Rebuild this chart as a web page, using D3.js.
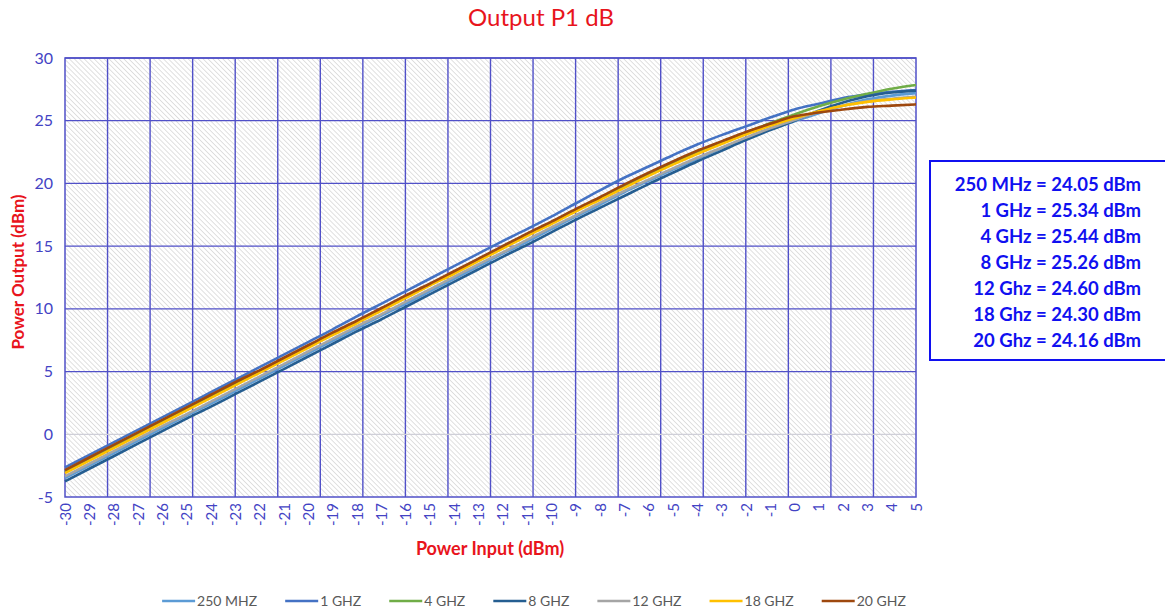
<!DOCTYPE html>
<html>
<head>
<meta charset="utf-8">
<script src="https://cdn.jsdelivr.net/npm/d3@7"></script>
<style>
  body { margin: 0; background: #fff; }
  svg { display: block; font-family: Lato, "Open Sans", sans-serif; }
</style>
</head>
<body>
<div id="chart"></div>
<script>
// input power, dBm
var inputs = d3.range(-30, 6)

var s250m = [-3.5,-2.5,-1.5,-0.5,0.5,1.5,2.45,3.45,4.45,5.45,6.45,7.45,8.45,9.45,10.4,11.4,12.4,13.4,14.4,15.35,16.35,17.35,18.3,19.3,20.2,21.1,21.95,22.8,23.6,24.3,24.95,25.6,26.2,26.7,27.0,27.2]
var s1g   = [-2.65,-1.65,-0.65,0.35,1.35,2.35,3.35,4.35,5.35,6.35,7.35,8.35,9.4,10.4,11.4,12.4,13.4,14.4,15.4,16.35,17.35,18.4,19.45,20.45,21.35,22.25,23.1,23.85,24.55,25.25,25.9,26.35,26.8,27.1,27.3,27.45]
var s4g   = [-3.0,-2.0,-1.0,0.0,1.0,2.0,3.0,4.0,5.0,6.0,7.0,8.0,9.0,10.0,11.0,11.95,12.95,13.95,14.95,15.95,16.9,17.9,18.85,19.8,20.75,21.65,22.5,23.3,24.05,24.8,25.5,26.15,26.7,27.15,27.55,27.85]
var s8g   = [-3.75,-2.75,-1.75,-0.75,0.25,1.25,2.2,3.2,4.2,5.2,6.2,7.2,8.2,9.15,10.15,11.15,12.15,13.15,14.15,15.1,16.1,17.1,18.05,19.0,19.95,20.85,21.75,22.6,23.45,24.25,25.0,25.8,26.45,26.95,27.25,27.4]
var s12g  = [-3.35,-2.35,-1.35,-0.35,0.65,1.6,2.6,3.6,4.6,5.6,6.6,7.6,8.6,9.55,10.55,11.55,12.55,13.55,14.5,15.5,16.5,17.45,18.45,19.4,20.3,21.2,22.05,22.85,23.65,24.4,25.05,25.7,26.2,26.55,26.75,26.9]
var s18g  = [-3.1,-2.1,-1.1,-0.1,0.9,1.9,2.9,3.9,4.9,5.9,6.9,7.9,8.85,9.85,10.85,11.85,12.8,13.8,14.8,15.8,16.75,17.75,18.7,19.65,20.6,21.5,22.35,23.15,23.9,24.6,25.2,25.75,26.2,26.5,26.7,26.85]
var s20g  = [-2.85,-1.85,-0.85,0.15,1.15,2.15,3.15,4.15,5.1,6.1,7.1,8.1,9.05,10.05,11.05,12.0,13.0,14.0,15.0,16.0,16.95,17.95,18.9,19.9,20.85,21.75,22.6,23.35,24.1,24.75,25.35,25.65,25.9,26.1,26.2,26.3]

var seriesNames = ['250 MHZ', '1 GHZ', '4 GHZ', '8 GHZ', '12 GHZ', '18 GHZ', '20 GHZ']
var seriesValues = [s250m, s1g, s4g, s8g, s12g, s18g, s20g]
var seriesColors = ['#5B9BD5', '#4472C4', '#70AD47', '#255E91', '#A5A5A5', '#FFC000', '#9E480E']

var yTicks = [-5, 0, 5, 10, 15, 20, 25, 30]

var p1dbNotes = [
  '250 MHz = 24.05 dBm',
  '1 GHz = 25.34 dBm',
  '4 GHz = 25.44 dBm',
  '8 GHz = 25.26 dBm',
  '12 Ghz = 24.60 dBm',
  '18 Ghz = 24.30 dBm',
  '20 Ghz = 24.16 dBm'
]

var width = 1165
var height = 613
var plot = {left: 65, right: 916, top: 58, bottom: 497}
var gridBlue = '#5050c8'
var tickBlue = '#4343c4'
var font = 'Lato, "Open Sans", sans-serif'
var fmt = d => String(d)   // plain hyphen minus, as in the original

var svg = d3.select('#chart').append('svg')
  .attr('width', width).attr('height', height)

var x = d3.scaleLinear().domain([-30, 5]).range([plot.left, plot.right])
var y = d3.scaleLinear().domain([-5, 30]).range([plot.bottom, plot.top])

// hatched plot background
var defs = svg.append('defs')
var pat = defs.append('pattern')
  .attr('id', 'hatch')
  .attr('patternUnits', 'userSpaceOnUse')
  .attr('width', 3.5).attr('height', 3.5)
  .attr('patternTransform', 'rotate(-45)')
pat.append('rect').attr('width', 3.5).attr('height', 3.5).attr('fill', '#fff')
pat.append('line')
  .attr('x1', 0).attr('y1', 0).attr('x2', 0).attr('y2', 3.5)
  .attr('stroke', '#d4d4d4').attr('stroke-width', 1.4)

svg.append('rect')
  .attr('x', plot.left).attr('y', plot.top)
  .attr('width', plot.right - plot.left).attr('height', plot.bottom - plot.top)
  .attr('fill', 'url(#hatch)')

// vertical gridlines: 20 equal divisions of the plot width
var vGrid = d3.range(1, 20).map(i => plot.left + i * (plot.right - plot.left) / 20)
svg.append('g').selectAll('line').data(vGrid).join('line')
  .attr('x1', d => d).attr('x2', d => d)
  .attr('y1', plot.top).attr('y2', plot.bottom)
  .attr('stroke', gridBlue).attr('stroke-width', 1.4)

// horizontal gridlines
svg.append('g').selectAll('line').data(yTicks.filter(d => d > -5)).join('line')
  .attr('x1', plot.left).attr('x2', plot.right)
  .attr('y1', d => y(d)).attr('y2', d => y(d))
  .attr('stroke', d => d === 0 ? '#cfcfd8' : gridBlue)
  .attr('stroke-width', 1.3)

// plot frame
svg.append('rect')
  .attr('x', plot.left).attr('y', plot.top)
  .attr('width', plot.right - plot.left).attr('height', plot.bottom - plot.top)
  .attr('fill', 'none').attr('stroke', gridBlue).attr('stroke-width', 1.5)

// series
var line = d3.line()
  .x((d, i) => x(inputs[i]))
  .y(d => y(d))
  .curve(d3.curveMonotoneX)

svg.append('g').selectAll('path').data(seriesValues).join('path')
  .attr('d', line)
  .attr('fill', 'none')
  .attr('stroke', (d, i) => seriesColors[i])
  .attr('stroke-width', 2.6)
  .attr('stroke-linejoin', 'round')

// y axis labels
var yAxis = svg.append('g')
  .attr('transform', `translate(${plot.left},0)`)
  .call(d3.axisLeft(y).tickValues(yTicks).tickSize(0).tickPadding(12).tickFormat(fmt))
yAxis.select('.domain').remove()
yAxis.selectAll('text')
  .attr('fill', tickBlue).style('font-size', '16px').style('font-family', font)

// x axis labels, rotated
var xAxis = svg.append('g')
  .attr('transform', `translate(0,${plot.bottom})`)
  .call(d3.axisBottom(x).tickValues(inputs).tickSize(0).tickFormat(fmt))
xAxis.select('.domain').remove()
xAxis.selectAll('text')
  .attr('fill', tickBlue).style('font-size', '15px').style('font-family', font)
  .attr('text-anchor', 'end')
  .attr('transform', 'rotate(-90)')
  .attr('x', -6).attr('y', 0).attr('dy', '0.35em')

// titles
svg.append('text')
  .attr('x', 541).attr('y', 26)
  .attr('text-anchor', 'middle')
  .attr('fill', '#e8141c').style('font-size', '24px')
  .text('Output P1 dB')

svg.append('text')
  .attr('x', 490).attr('y', 555)
  .attr('text-anchor', 'middle')
  .attr('fill', '#e8141c').style('font-size', '18px').style('font-weight', 'bold')
  .text('Power Input (dBm)')

svg.append('text')
  .attr('transform', 'translate(24,272) rotate(-90)')
  .attr('text-anchor', 'middle')
  .attr('fill', '#e8141c').style('font-size', '17px').style('font-weight', 'bold')
  .text('Power Output (dBm)')

// P1dB note box
svg.append('rect')
  .attr('x', 930).attr('y', 161)
  .attr('width', 260).attr('height', 199)
  .attr('fill', '#fff').attr('stroke', '#1010f0').attr('stroke-width', 2)

svg.append('g').selectAll('text').data(p1dbNotes).join('text')
  .attr('x', 1141)
  .attr('y', (d, i) => 185 + i * 25.9)
  .attr('dy', '0.35em')
  .attr('text-anchor', 'end')
  .attr('fill', '#1010f0').style('font-size', '18.5px').style('font-weight', 'bold')
  .text(d => d)

// legend
var legend = svg.append('g').attr('transform', 'translate(0,601)')
var items = legend.selectAll('g').data(seriesNames).join('g')
items.append('line')
  .attr('x1', 0).attr('x2', 33)
  .attr('stroke', (d, i) => seriesColors[i]).attr('stroke-width', 2.6)
items.append('text')
  .attr('x', 35).attr('dy', '0.35em')
  .attr('fill', '#595959').style('font-size', '14px')
  .text(d => d)

var pos = 0
var offsets = []
items.each(function () {
  var w = 35 + this.querySelector('text').getComputedTextLength()
  offsets.push(pos)
  pos += w + 28
})
var total = pos - 28
var start = 534 - total / 2
items.attr('transform', (d, i) => `translate(${start + offsets[i]},0)`)
</script>
</body>
</html>
